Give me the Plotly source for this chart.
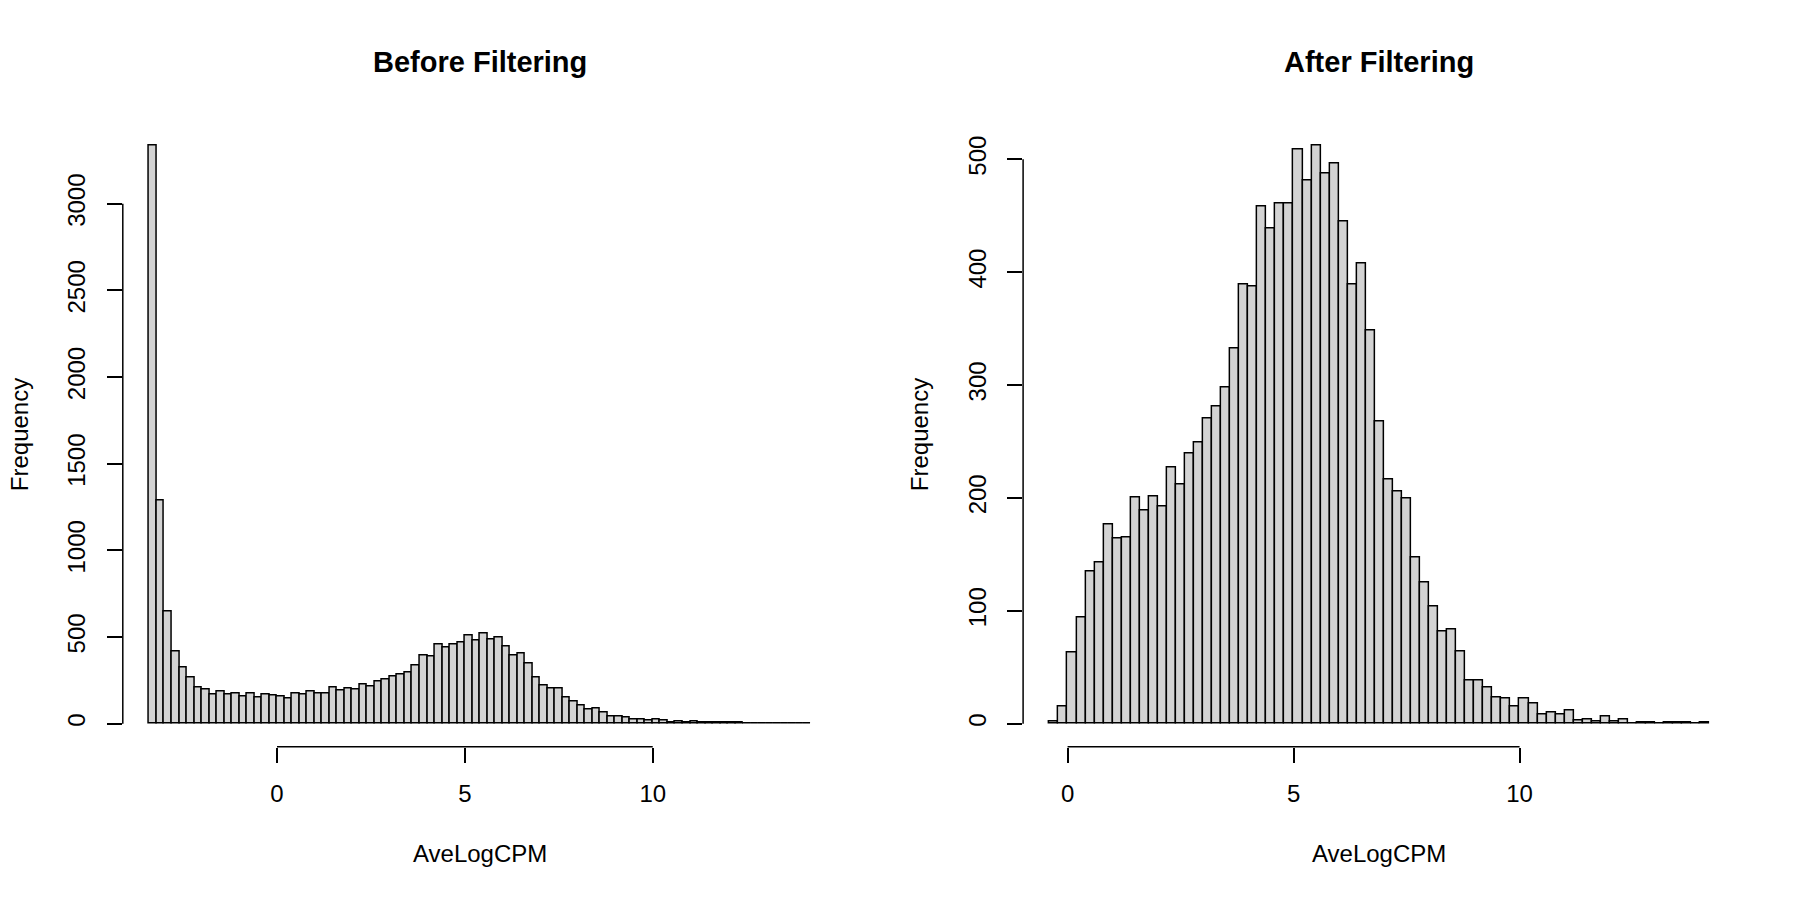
import numpy as np
import plotly.graph_objects as go

# histogram counts (bin width 0.2)
bin_width = 0.2
before_start = -3.4
before_counts = [3335, 1290, 648, 417, 321, 265, 208, 196, 165, 183,
                 167, 173, 158, 173, 148, 167, 160, 156, 144, 175,
                 169, 186, 173, 173, 206, 192, 202, 196, 227, 215,
                 240, 252, 271, 286, 296, 333, 392, 388, 459, 440,
                 457, 467, 507, 480, 517, 488, 496, 446, 392, 402,
                 348, 267, 217, 202, 202, 150, 125, 104, 81, 85,
                 64, 42, 40, 33, 23, 22, 15, 22, 18, 8,
                 12, 8, 13, 4, 6, 4, 8, 4, 6, 2,
                 2, 2, 1, 2, 2, 1, 1, 1]

after_start = -0.4
after_counts = [2, 15, 63, 94, 135, 143, 176, 164, 165, 200,
                189, 201, 192, 227, 212, 239, 249, 270, 281, 298,
                332, 389, 387, 458, 439, 461, 461, 509, 481, 512,
                487, 496, 445, 389, 408, 348, 268, 216, 206, 199,
                147, 125, 104, 82, 83, 64, 38, 38, 32, 23,
                22, 15, 22, 18, 8, 10, 8, 12, 3, 4,
                2, 6, 2, 4, 0, 1, 1, 0, 1, 1,
                1, 0, 1]

x_ticks = [0, 5, 10]
before_yticks = [0, 500, 1000, 1500, 2000, 2500, 3000]
after_yticks = [0, 100, 200, 300, 400, 500]

titles = ["Before Filtering", "After Filtering"]
x_title = "AveLogCPM"
y_title = "Frequency"

FONT = "Liberation Sans, Arial, sans-serif"

# the page body has an 8px margin, so the figure is a bit smaller
W, H, OFF = 1784, 884, 8


def px_x(p):
    return (p - OFF) / W


def px_y(p):
    return 1 - (p - OFF) / H


def centers(start, counts):
    return np.round(start + bin_width * (np.arange(len(counts)) + 0.5), 4)


def r_range(lo, hi):
    pad = (hi - lo) * 0.04
    return [lo - pad, hi + pad]


fig = go.Figure()
panels = [
    (before_start, before_counts, before_yticks, "x", "y"),
    (after_start, after_counts, after_yticks, "x2", "y2"),
]
for start, counts, yt, xa, ya in panels:
    fig.add_trace(go.Bar(
        x=centers(start, counts), y=counts, width=bin_width,
        marker=dict(color="#d3d3d3", line=dict(color="black", width=1.5)),
        xaxis=xa, yaxis=ya, showlegend=False, hoverinfo="x+y",
    ))

x_domains = [[px_x(122.8), px_x(837.0)], [px_x(1023.1), px_x(1735.8)]]
y_domain = [px_y(746.8), px_y(122.6)]

axis_common = dict(
    showgrid=False, zeroline=False, showline=False,
    ticks="outside", ticklen=15, tickwidth=1.5, tickcolor="black",
    tickfont=dict(family=FONT, size=24, color="black"),
)

layout_axes = {}
for i, (start, counts, yt, xa, ya) in enumerate(panels):
    end = start + bin_width * len(counts)
    xname = "xaxis" if i == 0 else "xaxis2"
    yname = "yaxis" if i == 0 else "yaxis2"
    layout_axes[xname] = dict(axis_common, domain=x_domains[i], anchor=ya,
                              range=r_range(start, end), tickvals=x_ticks,
                              ticklabelstandoff=10)
    layout_axes[yname] = dict(axis_common, domain=y_domain, anchor=xa,
                              range=r_range(0, max(counts)), tickvals=yt,
                              tickangle=-90, ticklabelstandoff=12)

fig.update_layout(
    width=W, height=H,
    margin=dict(l=0, r=0, t=0, b=0),
    paper_bgcolor="white", plot_bgcolor="white",
    bargap=0,
    font=dict(family=FONT, color="black"),
    **layout_axes,
)

# R-style axis lines spanning only the tick range
for i, (start, counts, yt, xa, ya) in enumerate(panels):
    fig.add_shape(type="line", xref=xa, yref=f"{ya} domain",
                  x0=x_ticks[0], x1=x_ticks[-1], y0=0, y1=0,
                  line=dict(color="black", width=1.5))
    fig.add_shape(type="line", xref=f"{xa} domain", yref=ya,
                  x0=0, x1=0, y0=yt[0], y1=yt[-1],
                  line=dict(color="black", width=1.5))

for i in range(2):
    cx = sum(x_domains[i]) / 2
    fig.add_annotation(text=f"<b>{titles[i]}</b>", x=cx, y=px_y(62),
                       xref="paper", yref="paper", showarrow=False,
                       xanchor="center", yanchor="middle",
                       font=dict(family=FONT, size=29, color="black"))
    fig.add_annotation(text=x_title, x=cx, y=px_y(853),
                       xref="paper", yref="paper", showarrow=False,
                       xanchor="center", yanchor="middle",
                       font=dict(family=FONT, size=24, color="black"))
    fig.add_annotation(text=y_title, x=px_x(19.5 + 900 * i), y=sum(y_domain) / 2,
                       xref="paper", yref="paper", showarrow=False,
                       xanchor="center", yanchor="middle", textangle=-90,
                       font=dict(family=FONT, size=24, color="black"))

fig.write_html("out.html")
